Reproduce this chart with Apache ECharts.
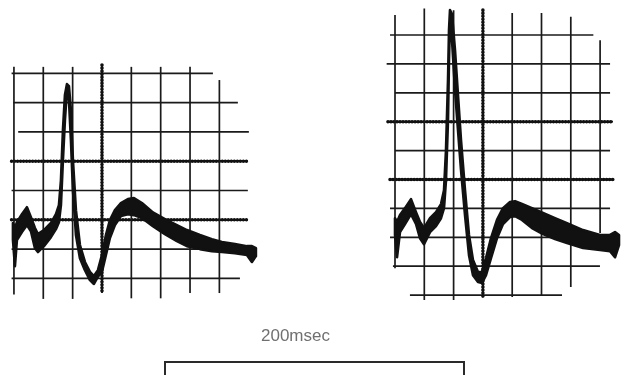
<!DOCTYPE html>
<html><head><meta charset="utf-8">
<script src="https://cdn.jsdelivr.net/npm/echarts@6/dist/echarts.min.js"></script>
<style>html,body{margin:0;padding:0;background:#fff}#c{width:630px;height:375px}</style>
</head><body><div id="c"></div>
<script>
// ---- Data: left trace (time in ms, band upper / lower edge in grid divisions) ----
const leftTime  = [-0.68,0.68,2.04,5.45,8.86,11.58,14.31,16.35,20.44,25.21,28.62,30.66,32.03,33.39,34.75,36.11,37.48,38.84,40.20,42.25,44.97,48.38,51.79,54.51,57.24,59.96,62.69,65.41,68.82,72.91,77.68,81.77,87.22,94.71,102.89,111.07,117.88,126.74,134.92,141.73,150.59,158.77,162.17,164.90];
const leftUpper = [1.89,1.72,1.92,2.19,2.43,2.09,1.72,1.51,1.65,1.89,2.19,2.50,3.35,5.06,6.26,6.63,6.56,5.74,4.04,2.33,1.14,0.56,0.22,0.08,0.28,0.80,1.48,1.99,2.33,2.57,2.71,2.74,2.57,2.25,2.02,1.82,1.65,1.48,1.34,1.24,1.17,1.10,1.10,1.03];
const leftLower = [1.31,0.42,1.31,1.58,1.82,1.61,1.03,0.90,1.10,1.41,1.68,1.92,2.50,4.04,5.40,6.43,6.09,4.72,3.01,1.48,0.69,0.28,-0.06,-0.19,0.06,0.22,0.80,1.38,1.82,2.13,2.19,2.16,2.06,1.78,1.51,1.27,1.10,1.00,0.93,0.90,0.86,0.80,0.56,0.76];

// ---- Data: right trace ----
const rightTime  = [0,1.37,3.41,6.83,10.92,14.33,17.07,19.80,23.89,27.99,31.40,33.45,34.81,36.18,36.86,37.54,38.91,40.96,43.00,45.05,47.78,50.51,53.24,56.66,59.39,62.12,65.53,69.63,73.72,78.50,81.91,86.69,93.52,101.02,109.22,117.41,128.33,139.93,146.76,150.17,152.90];
const rightUpper = [2.66,2.53,2.77,3.01,3.32,2.87,2.53,2.32,2.66,2.87,3.15,3.63,5.02,7.44,9.17,9.86,9.72,8.48,6.92,5.36,3.63,2.08,1.21,0.80,0.80,1.28,1.97,2.60,3.01,3.22,3.25,3.15,3.01,2.84,2.66,2.49,2.25,2.08,2.08,2.18,2.08];
const rightLower = [2.08,1.31,2.18,2.46,2.80,2.46,1.97,1.76,2.18,2.39,2.66,3.01,3.98,6.06,8.13,9.52,8.82,7.09,5.71,4.33,2.77,1.38,0.69,0.45,0.42,0.69,1.28,1.97,2.46,2.70,2.73,2.60,2.32,2.11,1.94,1.80,1.63,1.56,1.52,1.31,1.73];

const scaleLabel = '200msec';

// ---- Oscilloscope graticule (extent of each ruled line; 1 = beaded centre line) ----
const leftH = [[7,-1.6,135.6,0],[6,-0.5,152.6,0],[5,2.9,160.1,0],[4,-1.6,159.4,1],[3,-1.6,159.4,0],[2,-1.6,159.4,1],[1,-1.6,159.4,0],[0,-1.6,154,0]];
const leftV = [[0,7.22,-0.55,0],[20,7.22,-0.7,0],[40,7.22,-0.7,0],[60,7.28,-0.5,1],[80,7.22,-0.68,0],[100,7.22,-0.68,0],[120,7.22,-0.5,0],[140,6.77,-0.5,0]];
const rightH = [[9,-3.4,135.4,0],[8,-5.7,146.8,0],[7,0,146.8,0],[6,-4.8,148.8,1],[5,0,146.8,0],[4,-3.4,148.8,1],[3,-3.4,146.8,0],[2,-3.4,146.8,0],[1,-1.4,139.9,0],[0,10.2,114,0]];
const rightV = [[0,9.69,0.93,0],[20,9.92,-0.17,0],[40,9.86,-0.17,0],[60,9.86,-0.07,1],[80,9.76,-0.07,0],[100,9.76,0,0],[120,9.63,0.28,0],[140,8.82,2.15,0]];

function gridSeries(idx, hl, vl) {
  const data = [];
  hl.forEach(l => data.push([l[1], l[0], l[2], l[0], l[3]]));
  vl.forEach(l => data.push([l[0], l[1], l[0], l[2], l[3]]));
  return {
    type: 'custom', xAxisIndex: idx, yAxisIndex: idx, clip: false, silent: true, z: 2,
    data: data, encode: { x: [0, 2], y: [1, 3] },
    renderItem: function (params, api) {
      const p1 = api.coord([api.value(0), api.value(1)]);
      const p2 = api.coord([api.value(2), api.value(3)]);
      const shape = { x1: p1[0], y1: p1[1], x2: p2[0], y2: p2[1] };
      if (api.value(4) === 1) {
        return { type: 'group', children: [
          { type: 'line', shape: shape, style: { stroke: '#1a1a1a', lineWidth: 1.8 } },
          { type: 'line', shape: shape, style: { stroke: '#111', lineWidth: 3.6, lineDash: [0.01, 3], lineCap: 'round' } }
        ] };
      }
      return { type: 'line', shape: shape, style: { stroke: '#1a1a1a', lineWidth: 1.7 } };
    }
  };
}

function bandSeries(idx, t, up, lo) {
  return {
    type: 'custom', xAxisIndex: idx, yAxisIndex: idx, clip: false, silent: true, z: 3,
    data: t.map((v, i) => [v, up[i], lo[i]]), encode: { x: 0, y: [1, 2] },
    renderItem: function (params, api) {
      if (params.dataIndex !== 0) return null;
      const pts = [];
      for (let i = 0; i < t.length; i++) pts.push(api.coord([t[i], up[i]]));
      for (let i = t.length - 1; i >= 0; i--) pts.push(api.coord([t[i], lo[i]]));
      return { type: 'polygon', shape: { points: pts },
        style: { fill: '#111', stroke: '#111', lineWidth: 2.6, lineJoin: 'round' } };
    }
  };
}

const chart = echarts.init(document.getElementById('c'), null, { renderer: 'canvas' });
chart.setOption({
  backgroundColor: '#ffffff',
  animation: false,
  grid: [
    { left: 0, top: 44, width: 263.4, height: 263.7 },
    { left: 365.7, top: 6.1, width: 263.7, height: 317.9 }
  ],
  xAxis: [
    { type: 'value', gridIndex: 0, min: -9.5, max: 170, show: false },
    { type: 'value', gridIndex: 1, min: -20, max: 160, show: false }
  ],
  yAxis: [
    { type: 'value', gridIndex: 0, min: -1, max: 8, show: false },
    { type: 'value', gridIndex: 1, min: -1, max: 10, show: false }
  ],
  series: [
    gridSeries(0, leftH, leftV),
    gridSeries(1, rightH, rightV),
    bandSeries(0, leftTime, leftUpper, leftLower),
    bandSeries(1, rightTime, rightUpper, rightLower)
  ],
  graphic: [
    { type: 'text', left: 261, top: 328,
      style: { text: scaleLabel, fill: '#707070', font: '17px "Liberation Sans", sans-serif' } },
    { type: 'polyline', shape: { points: [[165, 376], [165, 362], [464, 362], [464, 376]] },
      style: { stroke: '#2a2a2a', lineWidth: 2, fill: null } }
  ]
});
</script></body></html>
